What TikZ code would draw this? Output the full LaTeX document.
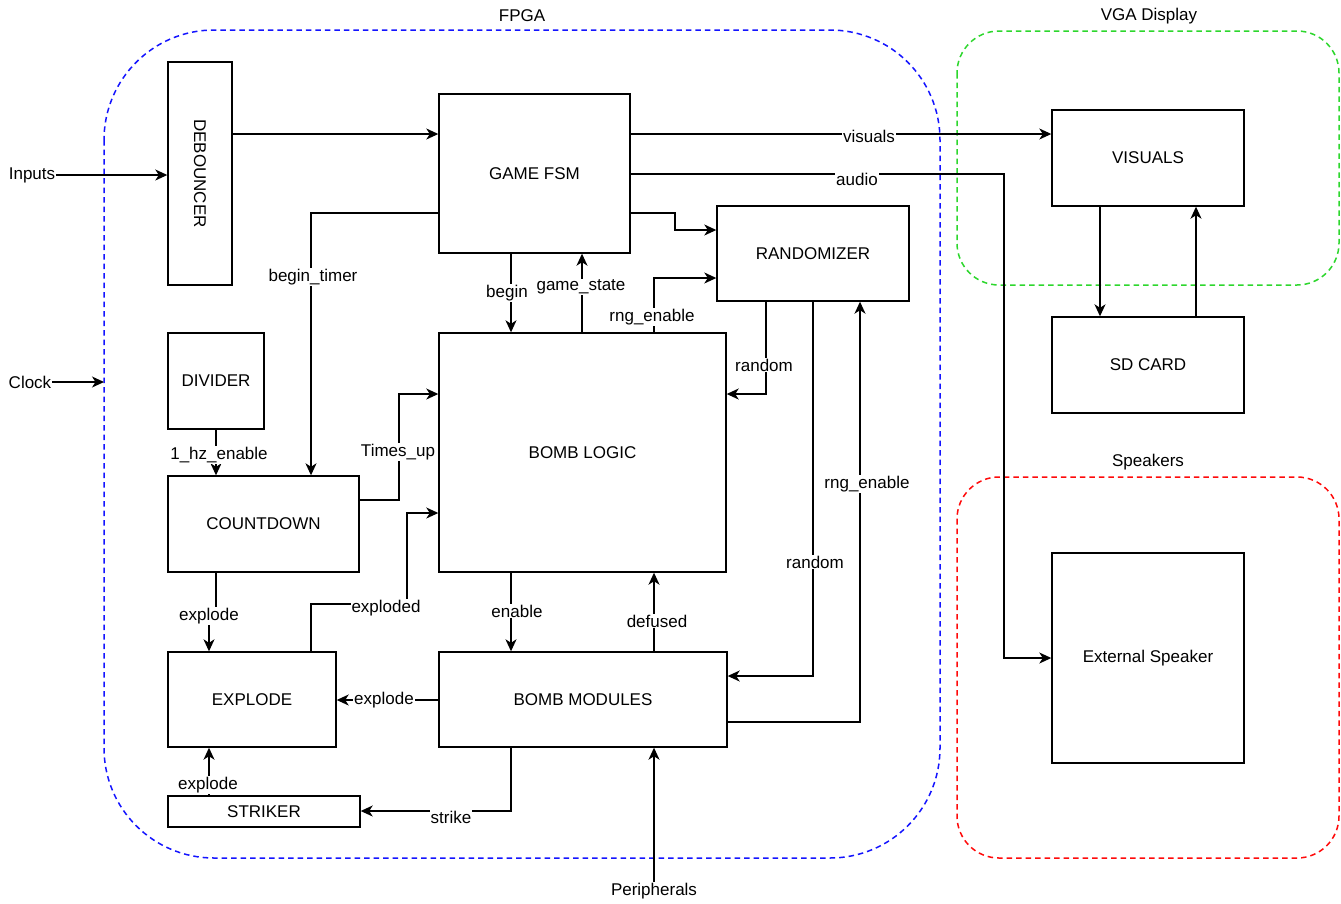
\documentclass[tikz,border=0pt]{standalone}
\usepackage{fontspec}
\setmainfont{Liberation Sans}
\usetikzlibrary{arrows.meta}
\newcommand\diafont{\fontsize{17}{20}\selectfont}
\definecolor{fpgablue}{RGB}{20,20,255}
\definecolor{vgagreen}{RGB}{45,215,45}
\definecolor{spkred}{RGB}{255,10,10}
\begin{document}
\begin{tikzpicture}[x=1pt,y=-1pt,
  box/.style={draw, line width=1.4pt, fill=white, inner sep=0pt, font=\diafont},
  arr/.style={line width=1.4pt, -{Stealth[length=12pt,width=11pt,inset=3.5pt]}},
  plain/.style={line width=1.4pt},
  lbl/.style={fill=white, inner sep=1pt, font=\diafont},
  txt/.style={inner sep=1pt, font=\diafont},
  cont/.style={line width=1.5pt, dash pattern=on 5.5pt off 4pt}
]
\useasboundingbox (0,0) rectangle (1341,903);
\fill[white] (0,0) rectangle (1341,903);

% containers
\draw[cont, fpgablue, rounded corners=110pt] (104,30) rectangle (940,858);
\draw[cont, vgagreen, rounded corners=42pt] (957,31) rectangle (1339,285);
\draw[cont, spkred, rounded corners=42pt] (957,477) rectangle (1339,858);
\node[txt] (fpgat) at (522,16) {FPGA};
\node[txt] (vgat) at (1149,16) {VGA Display};
\node[txt] (spkt) at (1148,462) {Speakers};

% boxes
\node[box, minimum width=64pt, minimum height=223pt] (deb) at (200,173.5) {\rotatebox{-90}{DEBOUNCER}};
\node[box, minimum width=191pt, minimum height=159pt] (gfsm) at (534.5,173.5) {GAME FSM};
\node[box, minimum width=192pt, minimum height=95pt] (rand) at (813,253.5) {RANDOMIZER};
\node[box, minimum width=192pt, minimum height=96pt] (vis) at (1148,158) {VISUALS};
\node[box, minimum width=192pt, minimum height=96pt] (sd) at (1148,365) {SD CARD};
\node[box, minimum width=192pt, minimum height=210pt] (spk) at (1148,658) {External Speaker};
\node[box, minimum width=96pt, minimum height=96pt] (div) at (216,381) {DIVIDER};
\node[box, minimum width=191pt, minimum height=96pt] (cd) at (263.5,524) {COUNTDOWN};
\node[box, minimum width=287pt, minimum height=239pt] (bl) at (582.5,452.5) {BOMB LOGIC};
\node[box, minimum width=168pt, minimum height=95pt] (ex) at (252,699.5) {EXPLODE};
\node[box, minimum width=288pt, minimum height=95pt] (bm) at (583,699.5) {BOMB MODULES};
\node[box, minimum width=192pt, minimum height=31pt] (str) at (264,811.5) {STRIKER};

% outside texts
\node[txt] (inp) at (32,175) {Inputs};
\node[txt] (clk) at (30,382) {Clock};
\node[txt] (per) at (654,891) {Peripherals};
\coordinate (fpgaedge) at (104,382);

% connectors
\draw[arr] (inp.east) -- (inp.east -| deb.west);
\draw[arr] (clk.east) -- (fpgaedge);
\draw[arr] (deb.east |- 0,134) -- (gfsm.west |- 0,134);
\draw[arr] (gfsm.west |- 0,213) -| (cd.north -| 311,0);
\draw[arr] (gfsm.east |- 0,134) -- (vis.west |- 0,134);
\draw[arr] (gfsm.east |- 0,174) -| (spk.west -| 1004,0) -- (spk.west);
\draw[arr] (gfsm.east |- 0,213) -- (675,213) -- (675,230) -- (rand.west |- 0,230);
\draw[arr] (gfsm.south -| 511,0) -- (bl.north -| 511,0);
\draw[arr] (bl.north -| 582,0) -- (gfsm.south -| 582,0);
\draw[arr] (bl.north -| 654,0) |- (rand.west |- 0,278);
\draw[arr] (rand.south -| 766,0) |- (bl.east |- 0,394);
\draw[arr] (rand.south -| 813,0) |- (bm.east |- 0,676);
\draw[arr] (bm.east |- 0,722) -| (rand.south -| 860,0);
\draw[arr] (div.south) -- (cd.north -| div.south);
\draw[arr] (cd.east |- 0,500) -- (399,500) -- (399,394) -- (bl.west |- 0,394);
\draw[arr] (ex.north -| 311,0) -- (311,604) -- (407,604) -- (407,513) -- (bl.west |- 0,513);
\draw[arr] (cd.south -| 216,0) -- (216,614) -- (209,614) -- (ex.north -| 209,0);
\draw[arr] (bl.south -| 511,0) -- (bm.north -| 511,0);
\draw[arr] (bm.north -| 654,0) -- (bl.south -| 654,0);
\draw[arr] (bm.west |- 0,700) -- (ex.east |- 0,700);
\draw[arr] (bm.south -| 511,0) |- (str.east |- 0,811);
\draw[arr] (str.north -| 209,0) -- (ex.south -| 209,0);
\draw[arr] (per.north) -- (bm.south -| per.north);
\draw[arr] (vis.south -| 1100,0) -- (sd.north -| 1100,0);
\draw[arr] (sd.north -| 1196,0) -- (vis.south -| 1196,0);

% connector labels
\node[lbl] (l1) at (313,277) {begin\_timer};
\node[lbl] (l2) at (869,136) {visuals};
\node[lbl] (l3) at (857,179) {audio};
\node[lbl] (l4) at (507,293) {begin};
\node[lbl] (l5) at (581,287) {game\_state};
\node[lbl] (l6) at (652,317) {rng\_enable};
\node[lbl] (l7) at (764,365) {random};
\node[lbl] (l8) at (815,562) {random};
\node[lbl] (l9) at (867,484) {rng\_enable};
\node[lbl] (l10) at (219,455) {1\_hz\_enable};
\node[lbl] (l11) at (398,452) {Times\_up};
\node[lbl] (l12) at (386,608) {exploded};
\node[lbl] (l13) at (209,616) {explode};
\node[lbl] (l14) at (517,611) {enable};
\node[lbl] (l15) at (657,621) {defused};
\node[lbl] (l16) at (384,700) {explode};
\node[lbl] (l17) at (451,817) {strike};
\node[lbl] (l18) at (208,785) {explode};
\end{tikzpicture}
\end{document}
